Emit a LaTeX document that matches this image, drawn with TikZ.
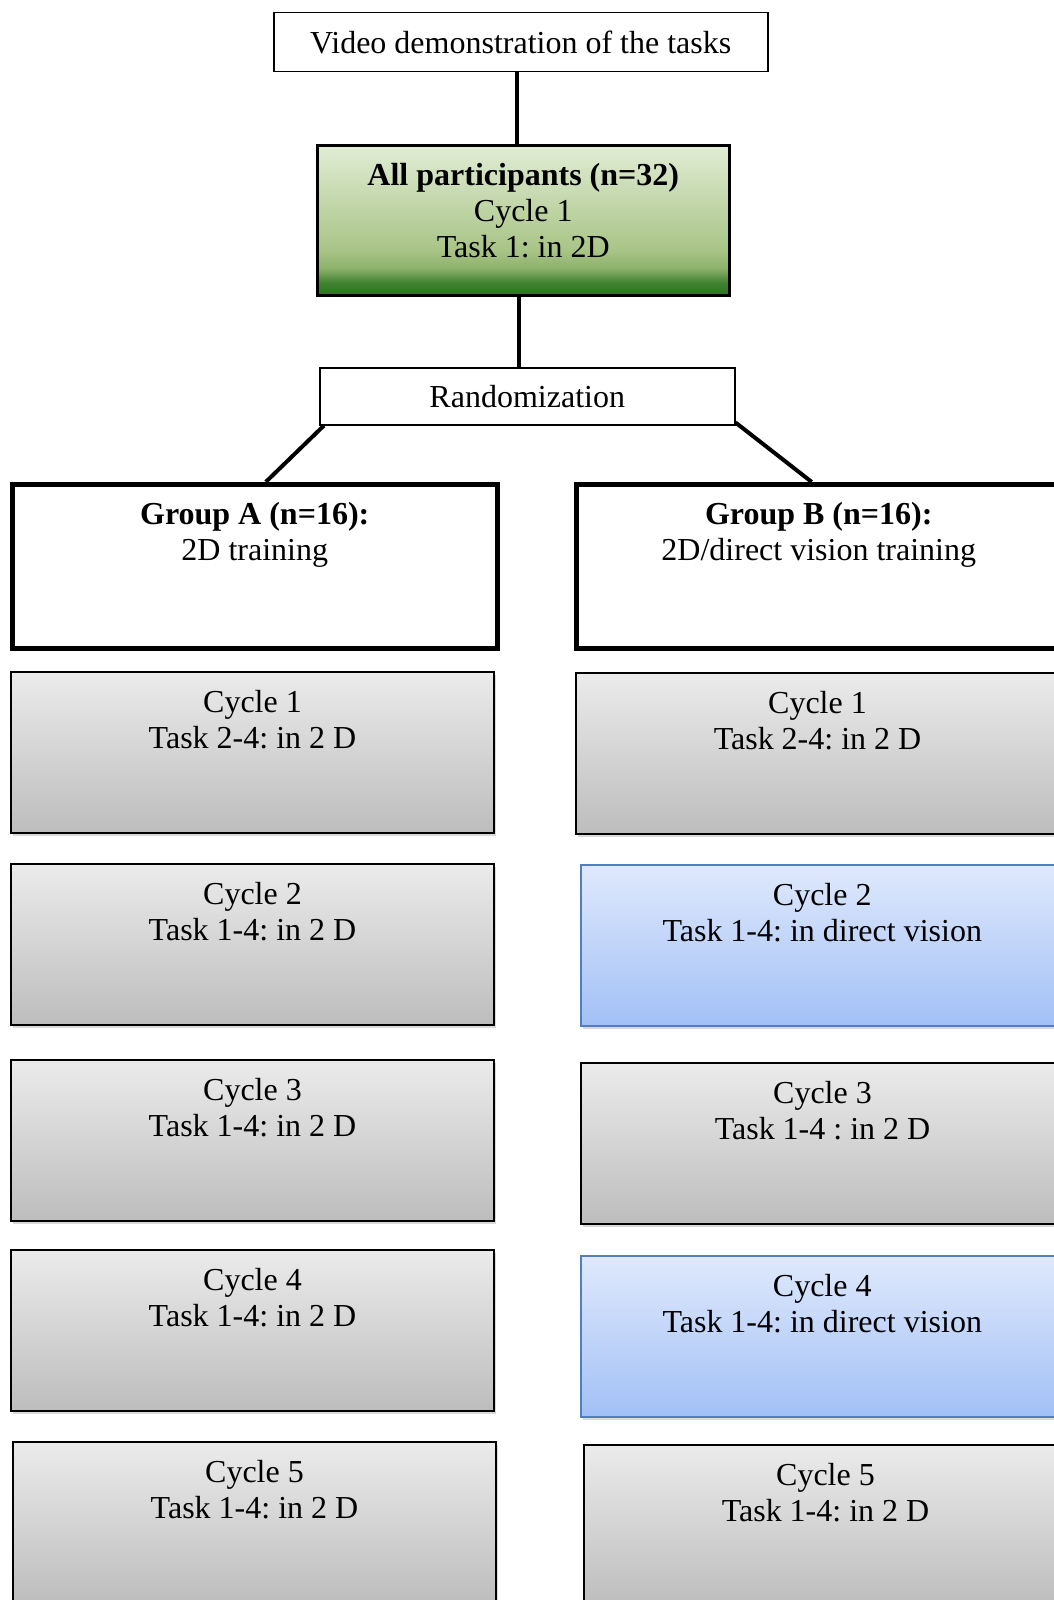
\documentclass[tikz,border=0pt]{standalone}
\usepackage{fontspec}
\setmainfont{Liberation Serif}
\frenchspacing
\usetikzlibrary{positioning}
\usetikzlibrary{shadows}
\definecolor{grayTop}{HTML}{EBEBEB}
\definecolor{grayBot}{HTML}{BDBDBD}
\definecolor{blueTop}{HTML}{DFE9FC}
\definecolor{blueBot}{HTML}{A2C0F6}
\definecolor{blueLine}{HTML}{4F7FC0}
\definecolor{greenTop}{HTML}{E1EDD5}
\definecolor{greenMid}{HTML}{A9C487}
\definecolor{greenLow}{HTML}{8DB26C}
\definecolor{greenDark}{HTML}{2A7420}

\pgfdeclareverticalshading{grayfill}{100bp}{color(0bp)=(grayBot); color(25bp)=(grayBot); color(75bp)=(grayTop); color(100bp)=(grayTop)}
\pgfdeclareverticalshading{bluefill}{100bp}{color(0bp)=(blueBot); color(25bp)=(blueBot); color(75bp)=(blueTop); color(100bp)=(blueTop)}
\pgfdeclareverticalshading{greenfill}{100bp}{color(0bp)=(greenDark); color(25bp)=(greenDark); color(29bp)=(greenDark!80!greenLow); color(34bp)=(greenLow); color(40bp)=(greenMid); color(75bp)=(greenTop); color(100bp)=(greenTop)}

\begin{document}
\begin{tikzpicture}[%
  x=1pt, y=-1pt,
  every node/.style={font=\fontsize{32}{36}\selectfont},
  box/.style={rectangle, draw, anchor=north west, inner sep=0pt},
  plainbox/.style={box, line width=1.5pt, minimum width=494pt},
  startbox/.style={box, line width=2.5pt, shading=greenfill},
  groupbox/.style={box, line width=4.5pt, minimum width=485pt, minimum height=164pt},
  cyclebox/.style={box, line width=2pt, minimum width=483pt, minimum height=161pt,
    shading=grayfill, drop shadow={shadow xshift=2pt, shadow yshift=-3pt, opacity=.3}},
  visionbox/.style={cyclebox, line width=1.5pt, draw=blueLine, shading=bluefill},
  txt/.style={anchor=north, yshift=-16pt, align=center},
  link/.style={line width=4pt},
]

  \useasboundingbox (0,0) rectangle (1054,1600);
  \clip (0,0) rectangle (1054,1600);

  \node[plainbox, minimum height=59pt] (video) at (273,12) {Video demonstration of the tasks};
  \node[startbox, minimum width=412pt, minimum height=150pt,
    label={[txt]north:{\textbf{All participants (n=32)}\\Cycle 1\\Task 1: in 2D}}]
    (all) at (316,144) {};
  \node[plainbox, minimum width=415pt, minimum height=57pt] (rand) at (319,367) {Randomization};

  \node[groupbox, label={[txt, yshift=-1pt]north:{\textbf{Group A (n=16):}\\2D training}}]
    (grpA) at (10,482) {};
  \node[groupbox, label={[txt, yshift=-1pt]north:{\textbf{Group B (n=16):}\\2D/direct vision training}}]
    (grpB) at (574,482) {};

  % group A
  \node[cyclebox, label={[txt]north:{Cycle 1\\Task 2-4: in 2 D}}] (a1) at (10,671) {};
  \node[cyclebox, label={[txt]north:{Cycle 2\\Task 1-4: in 2 D}}] (a2) at (10,863) {};
  \node[cyclebox, label={[txt]north:{Cycle 3\\Task 1-4: in 2 D}}] (a3) at (10,1059) {};
  \node[cyclebox, label={[txt]north:{Cycle 4\\Task 1-4: in 2 D}}] (a4) at (10,1249) {};
  \node[cyclebox, label={[txt]north:{Cycle 5\\Task 1-4: in 2 D}}] (a5) at (12,1441) {};

  % group B
  \node[cyclebox, label={[txt]north:{Cycle 1\\Task 2-4: in 2 D}}] (b1) at (575,672) {};
  \node[visionbox, label={[txt]north:{Cycle 2\\Task 1-4: in direct vision}}] (b2) at (580,864) {};
  \node[cyclebox, label={[txt]north:{Cycle 3\\Task 1-4 : in 2 D}}] (b3) at (580,1062) {};
  \node[visionbox, label={[txt]north:{Cycle 4\\Task 1-4: in direct vision}}] (b4) at (580,1255) {};
  \node[cyclebox, label={[txt]north:{Cycle 5\\Task 1-4: in 2 D}}] (b5) at (583,1444) {};

  \draw[link] ([xshift=-4pt]video.south) -- ([xshift=-4pt]video.south |- all.north);
  \draw[link] ([xshift=-4pt]all.south) -- ([xshift=-4pt]all.south |- rand.north);
  \draw[link] ([xshift=5pt]rand.south west) -- ([xshift=11pt]grpA.north);
  \draw[link] ([yshift=3pt]rand.south east) -- ([xshift=-7pt]grpB.north);

\end{tikzpicture}
\end{document}
